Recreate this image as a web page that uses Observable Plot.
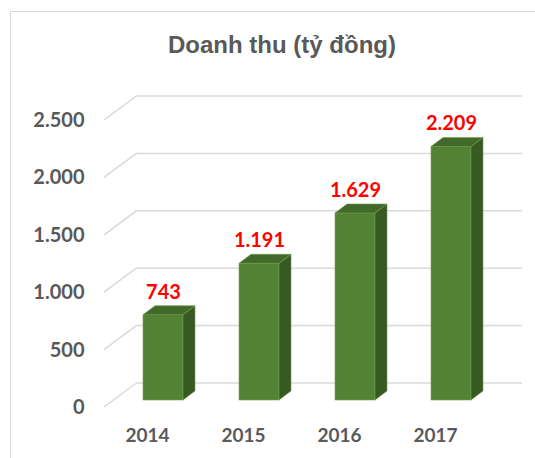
<!DOCTYPE html>
<html><head><meta charset="utf-8">
<script src="https://cdn.jsdelivr.net/npm/d3@7"></script>
<script src="https://cdn.jsdelivr.net/npm/@observablehq/plot@0.6"></script>
<style>
html,body{margin:0;padding:0;width:535px;height:458px;overflow:hidden;background:#fff}
#frame{position:absolute;left:10px;top:11px;width:600px;height:600px;border:1px solid #d9d9d9;box-sizing:border-box}
#title{position:absolute;left:0;top:33px;width:564px;text-align:center;font:bold 24px "Liberation Sans",Arial,sans-serif;color:#595959;line-height:24px}
#chart{position:absolute;left:0;top:70px}
</style></head><body>
<div id="frame"></div>
<div id="title">Doanh thu (tỷ đồng)</div>
<div id="chart"></div>
<script>
const years = ["2014", "2015", "2016", "2017"];
const revenue = [743, 1191, 1629, 2209];
const yTicks = [0, 500, 1000, 1500, 2000, 2500];

const data = years.map((year, i) => ({year, value: revenue[i]}));
const fmt = d => d3.format(",")(d).replace(/,/g, ".");
const numFont = "Lato, 'Open Sans', sans-serif";
const FRONT = "#548235", TOP = "#41692a", SIDE = "#375a22", EDGE = "#6f9c4e";
const BAR_DX = 12, BAR_DY = -9;      // bar depth
const WALL_DY = -17.5, FLOOR_DY = 7;  // back wall / front edge offsets
const DIAG_X0 = 17, DIAG_X1 = 50;     // offsets from left margin

function diagonals(index, scales, values, dimensions) {
  const y = scales.y, ml = dimensions.marginLeft;
  const g = d3.create("svg:g").attr("stroke", "#d9d9d9").attr("stroke-width", 1.5);
  for (const t of yTicks) {
    g.append("line")
      .attr("x1", ml + DIAG_X0).attr("y1", y(t) + FLOOR_DY)
      .attr("x2", ml + DIAG_X1).attr("y2", y(t) + WALL_DY);
  }
  return g.node();
}

function faces(index, scales) {
  const x = scales.x, y = scales.y;
  const bw = x.bandwidth();
  const g = d3.create("svg:g").attr("stroke", EDGE).attr("stroke-width", 0.6).attr("stroke-linejoin", "round");
  for (const d of data) {
    const x0 = x(d.year), x1 = x0 + bw, yt = y(d.value), yb = y(0);
    g.append("polygon").attr("fill", SIDE)
      .attr("points", [[x1, yt], [x1 + BAR_DX, yt + BAR_DY], [x1 + BAR_DX, yb + BAR_DY], [x1, yb]].join(" "));
    g.append("polygon").attr("fill", TOP)
      .attr("points", [[x0, yt], [x0 + BAR_DX, yt + BAR_DY], [x1 + BAR_DX, yt + BAR_DY], [x1, yt]].join(" "));
  }
  return g.node();
}

const chart = Plot.plot({
  width: 535,
  height: 388,
  marginTop: 43,
  marginBottom: 58,
  marginLeft: 87,
  marginRight: 8,
  style: {background: "transparent", overflow: "visible"},
  x: {domain: years, padding: 0.58, axis: null},
  y: {domain: [0, 2500], axis: null},
  marks: [
    Plot.ruleY(yTicks, {stroke: "#d9d9d9", strokeWidth: 1.5, dy: WALL_DY, insetLeft: DIAG_X1, insetRight: 5}),
    diagonals,
    Plot.barY(data, {x: "year", y: "value", fill: FRONT, stroke: EDGE, strokeWidth: 0.6}),
    faces,
    Plot.text(yTicks, {y: d => d, text: fmt, frameAnchor: "left", textAnchor: "end", dx: -3, dy: FLOOR_DY,
      fill: "#595959", fontSize: 20, fontWeight: "bold", fontFamily: numFont}),
    Plot.text(data, {x: "year", y: 0, text: "year", dx: -16, dy: 35,
      fill: "#595959", fontSize: 19, fontWeight: "bold", fontFamily: numFont}),
    Plot.text(data, {x: "year", y: "value", text: d => fmt(d.value), dy: -23,
      fill: "#ff0000", fontSize: 20, fontWeight: "bold", fontFamily: numFont})
  ]
});
document.getElementById("chart").appendChild(chart);
</script>
</body></html>
